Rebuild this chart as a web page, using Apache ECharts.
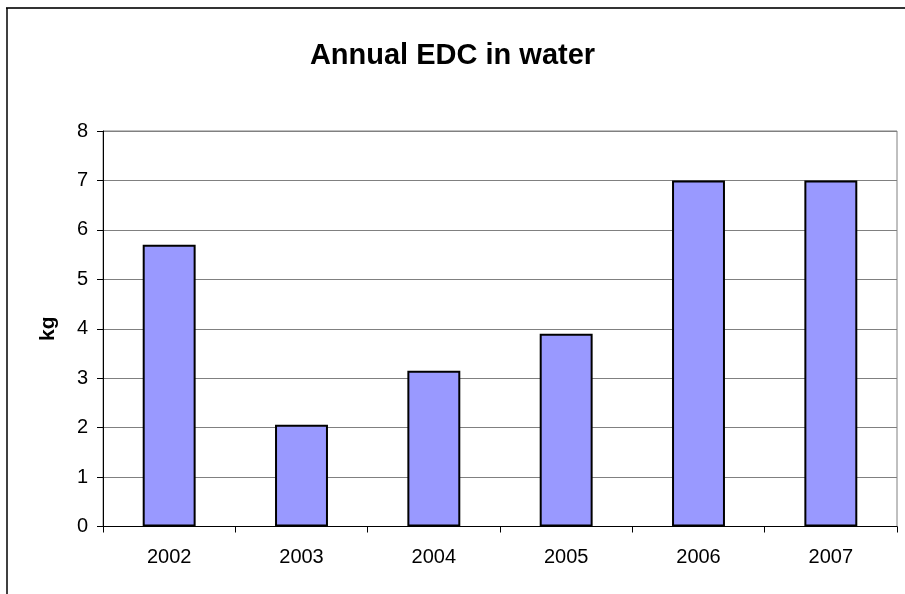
<!DOCTYPE html>
<html>
<head>
<meta charset="utf-8">
<script src="https://cdn.jsdelivr.net/npm/echarts@6/dist/echarts.min.js"></script>
<style>
  html, body { margin: 0; padding: 0; background: #fff; }
  #chart { width: 905px; height: 594px; }
</style>
</head>
<body>
<div id="chart"></div>
<script>
// Annual EDC released to water, kg per year
const years = ['2002', '2003', '2004', '2005', '2006', '2007'];
const edcKg = [5.7, 2.06, 3.15, 3.9, 7.0, 7.0];
const yTicks = [0, 1, 2, 3, 4, 5, 6, 7, 8];

const chart = echarts.init(document.getElementById('chart'), null, { renderer: 'canvas' });
const font = 'Liberation Sans, Arial, sans-serif';

chart.setOption({
  animation: false,
  backgroundColor: '#ffffff',
  title: {
    text: 'Annual EDC in water',
    left: 'center',
    top: 36,
    textStyle: { fontFamily: font, fontSize: 29, fontWeight: 'bold', color: '#000' }
  },
  graphic: [
    // outer chart frame (top and left edges)
    { type: 'line', shape: { x1: 6, y1: 8, x2: 905, y2: 8 }, style: { stroke: '#333', lineWidth: 2 } },
    { type: 'line', shape: { x1: 7, y1: 8, x2: 7, y2: 594 }, style: { stroke: '#000', lineWidth: 1.5 } }
  ],
  grid: {
    left: 103, right: 8, top: 131, bottom: 67.5,
    show: true, borderColor: '#808080', borderWidth: 1, backgroundColor: 'transparent'
  },
  xAxis: {
    type: 'category',
    data: years,
    axisLine: { lineStyle: { color: '#000', width: 1 } },
    axisTick: { show: true, alignWithLabel: false, length: 6, lineStyle: { color: '#000' } },
    axisLabel: { fontFamily: font, fontSize: 20, color: '#000', margin: 21 }
  },
  yAxis: {
    type: 'value',
    min: yTicks[0],
    max: yTicks[yTicks.length - 1],
    interval: 1,
    name: 'kg',
    nameLocation: 'middle',
    nameGap: 44,
    nameRotate: 90,
    nameTextStyle: { fontFamily: font, fontSize: 21, fontWeight: 'bold', color: '#000' },
    axisLine: { show: true, lineStyle: { color: '#000', width: 1 } },
    axisTick: { show: true, length: 6, lineStyle: { color: '#000' } },
    axisLabel: { fontFamily: font, fontSize: 20, color: '#000', margin: 15 },
    splitLine: { show: true, lineStyle: { color: '#808080', width: 1 } }
  },
  series: [{
    type: 'bar',
    data: edcKg,
    barWidth: '40%',
    itemStyle: { color: '#9999FF', borderColor: '#000', borderWidth: 2 }
  }]
});
</script>
</body>
</html>
